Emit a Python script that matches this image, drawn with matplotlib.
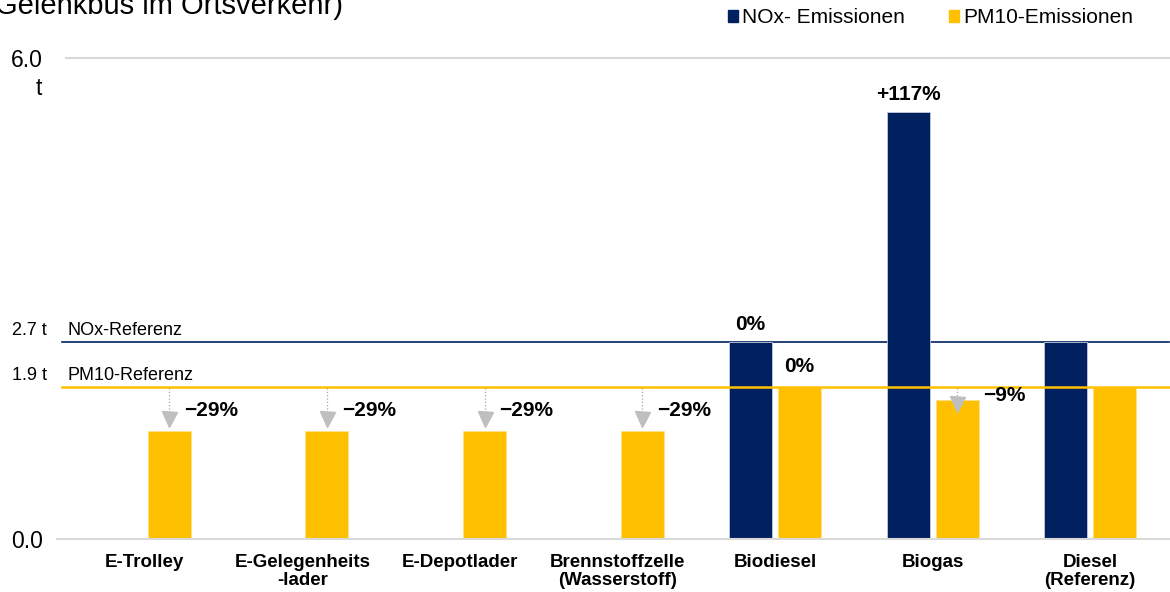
import numpy as np
import matplotlib.pyplot as plt
from matplotlib.patches import Patch

plt.rcParams['font.family'] = ['Liberation Sans', 'DejaVu Sans']

# Daten ***********************************************************************
kategorien = ['E-Trolley', 'E-Gelegenheits\n-lader', 'E-Depotlader',
              'Brennstoffzelle\n(Wasserstoff)', 'Biodiesel', 'Biogas',
              'Diesel\n(Referenz)']
nox_werte = [np.nan, np.nan, np.nan, np.nan, 2.7, 5.86, 2.7]
pm_werte = [1.35, 1.35, 1.35, 1.35, 1.9, 1.73, 1.9]
nox_labels = ['', '', '', '', '0%', '+117%', '']
pm_labels = ['\u221229%', '\u221229%', '\u221229%', '\u221229%', '0%', '\u22129%', '']
nox_referenz = 2.7
pm_referenz = 1.9
# *****************************************************************************

navy = '#002060'
gelb = '#FFC000'
grau = '#BFBFBF'
gitter = '#D9D9D9'

fig = plt.figure(figsize=(11.7, 5.92), dpi=100)
ax = fig.add_axes([66/1170, 53/592, 1103/1170, 481/592])   # NOx
ax2 = ax.twinx()                                            # PM10

x = np.arange(len(kategorien))
breite = 0.273
versatz = 0.156

# NOx-Balken und Referenzlinie
ax.bar(x - versatz, nox_werte, breite, color=navy, edgecolor='#c5ccd9',
       linewidth=0.6, zorder=2)
ax.axhline(nox_referenz, xmin=-0.004, color=navy, lw=1.2, clip_on=False, zorder=1)
ax.set_ylim(0, 6.6)
ax.set_yticks([])

# PM10-Balken und Referenzlinie
ax2.bar(x + versatz, pm_werte, breite, color=gelb, edgecolor='#ffe08a',
        linewidth=0.6, zorder=2)
ax2.axhline(pm_referenz, xmin=-0.004, color=gelb, lw=1.8, clip_on=False, zorder=3)
ax2.axhline(6.0, color=gitter, lw=1.5, clip_on=False, zorder=1)
ax2.axhline(0, xmin=-0.008, color=gitter, lw=1.5, clip_on=False, zorder=4)
ax2.set_ylim(0, 6.0)
ax2.yaxis.tick_left()
ax2.set_yticks([0, 6.0])
ax2.set_yticklabels(['0.0', '6.0'], fontsize=16.5)
ax2.tick_params(axis='y', length=0, pad=16.5)
ax2.annotate('t', xy=(0, 6.0), xycoords=('axes fraction', 'data'),
             xytext=(-17.3, -22), textcoords='offset points',
             ha='right', va='center', fontsize=16.5)

ax.set_xlim(-0.5, 6.5)
ax.set_xticks(x)
ax.set_xticklabels(kategorien, fontsize=13.5, fontweight='bold')
for lbl in ax.get_xticklabels():
    lbl.set_linespacing(1.12)
ax.tick_params(axis='x', length=0, pad=10.5)

for a in (ax, ax2):
    for s in a.spines.values():
        s.set_visible(False)

# Beschriftung der Referenzlinien
ax.annotate(f'{nox_referenz:.1f} t', xy=(0, nox_referenz),
            xycoords=('axes fraction', 'data'), xytext=(-13.7, 5.5),
            textcoords='offset points', ha='right', va='baseline', fontsize=13)
ax.annotate('NOx-Referenz', xy=(0, nox_referenz),
            xycoords=('axes fraction', 'data'), xytext=(1.4, 5.5),
            textcoords='offset points', ha='left', va='baseline', fontsize=13)
ax2.annotate(f'{pm_referenz:.1f} t', xy=(0, pm_referenz),
             xycoords=('axes fraction', 'data'), xytext=(-13.7, 4.5),
             textcoords='offset points', ha='right', va='baseline', fontsize=13)
ax2.annotate('PM10-Referenz', xy=(0, pm_referenz),
             xycoords=('axes fraction', 'data'), xytext=(1.4, 4.5),
             textcoords='offset points', ha='left', va='baseline', fontsize=13)

# Prozentangaben NOx
for xi, wert, txt in zip(x, nox_werte, nox_labels):
    if txt:
        ax.annotate(txt, xy=(xi - versatz, wert), xytext=(0, 6),
                    textcoords='offset points', ha='center', va='bottom',
                    fontsize=15, fontweight='bold')

# Prozentangaben PM10 mit Pfeil bei Reduktion
for xi, wert, txt in zip(x, pm_werte, pm_labels):
    if not txt:
        continue
    xp = xi + versatz
    if wert < pm_referenz:
        spitze = min(wert + 0.05, pm_referenz - 0.31)
        ax2.plot([xp, xp], [pm_referenz - 0.02, spitze + 0.19], ls=':',
                 color='#a6a6a6', lw=0.9, zorder=3)
        ax2.plot(xp, spitze + 0.094, marker='v', ms=10.8, color=grau,
                 mec=grau, zorder=4)
        ax2.annotate(txt, xy=(xp + breite / 2, spitze + 0.2), xytext=(34, 0),
                     textcoords='offset points', ha='right', va='center',
                     fontsize=15, fontweight='bold')
    else:
        ax2.annotate(txt, xy=(xp, wert), xytext=(0, 7.5),
                     textcoords='offset points', ha='center', va='bottom',
                     fontsize=15, fontweight='bold')

# Legende
fig.legend(handles=[Patch(color=navy, label='NOx- Emissionen'),
                    Patch(color=gelb, label='PM10-Emissionen')],
           ncol=2, loc='center left', bbox_to_anchor=(0.622, 0.970),
           frameon=False, fontsize=15, handlelength=0.5, handleheight=0.5,
           handletextpad=0.2, columnspacing=2.1, borderpad=0, borderaxespad=0)

fig.text(-0.004, 1 - 13.5/592, 'Gelenkbus im Ortsverkehr)', fontsize=21,
         ha='left', va='baseline')

plt.savefig('out.png', dpi=100)
